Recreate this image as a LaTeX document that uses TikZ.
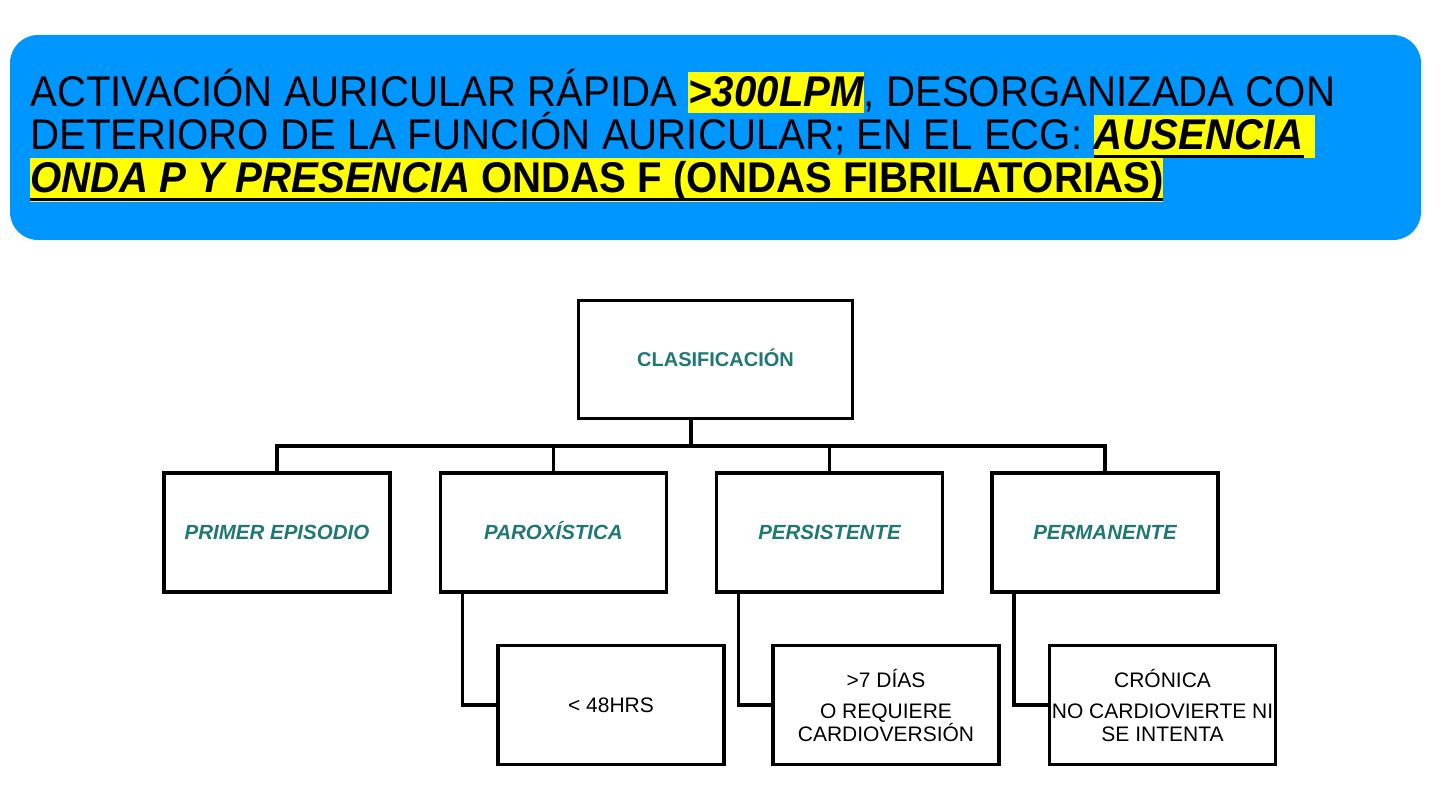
\documentclass[tikz,border=0pt]{standalone}
\usepackage{fontspec}
\setmainfont{Liberation Sans}
\newfontfamily\hdrfont[FakeStretch=0.935]{Liberation Sans}
\definecolor{hdrblue}{RGB}{0,150,255}
\definecolor{tealtxt}{RGB}{31,120,114}
\definecolor{hly}{RGB}{255,255,0}
\newcommand\hlbox[1]{{\setlength{\fboxsep}{0pt}\colorbox{hly}{\rule[-0.15em]{0pt}{0.97em}#1}}}
\newcommand\ulbox[1]{\setbox0\hbox{#1}\rlap{\rule[-0.19em]{\wd0}{0.08em}}\box0}
\begin{document}
\begin{tikzpicture}[x=1pt,y=-1pt,
  box/.style={draw=black,line width=3.8pt,fill=white,minimum width=226pt,minimum height=119pt,inner sep=0pt,align=center},
  l1/.style={box,text=tealtxt,font=\fontsize{20}{24}\selectfont\bfseries,text height=14.5pt,text depth=0pt},
  l2/.style={box,text=tealtxt,font=\fontsize{20.5}{24}\selectfont\bfseries\itshape,text height=14.7pt,text depth=0pt},
  l3/.style={box,text=black,font=\fontsize{21}{23}\selectfont},
  hline/.style={anchor=base west,inner sep=0pt,font=\hdrfont\fontsize{43}{43}\selectfont},
  conn/.style={draw=black,line width=3.4pt}]
\useasboundingbox (0,0) rectangle (1440,810);
\fill[white] (0,0) rectangle (1440,810);
\node[fill=hdrblue,rounded corners=28pt,minimum width=1411pt,minimum height=205pt,inner sep=0pt] (hdr) at (715.5,137.5) {};
\node[hline] (t1) at (30,107) {ACTIVACIÓN AURICULAR RÁPIDA \hlbox{\bfseries\itshape >300LPM}, DESORGANIZADA CON};
\node[hline] (t2) at (30,150) {DETERIORO DE LA FUNCIÓN AURICULAR; EN EL ECG: \hlbox{\bfseries\itshape\ulbox{AUSENCIA}\ }};
\node[hline] (t3) at (30,193) {\hlbox{\bfseries\ulbox{{\itshape ONDA P Y PRESENCIA\/} ONDAS F (ONDAS FIBRILATORIAS)}}};

\node[l1,minimum width=274pt,minimum height=118pt] (clas) at (715.5,359.5) {CLASIFICACIÓN};
\node[l2] (p1) at (277,532.5) {PRIMER EPISODIO};
\node[l2] (p2) at (553.5,532.5) {PAROXÍSTICA};
\node[l2] (p3) at (829.5,532.5) {PERSISTENTE};
\node[l2] (p4) at (1105,532.5) {PERMANENTE};

\node[l3] (c1) at (611,705) {< 48HRS};
\node[l3] (c2) at (886,705) {>7 DÍAS\\[8pt]O REQUIERE\\CARDIOVERSIÓN};
\node[l3] (c3) at (1162.5,705) {CRÓNICA\\[8pt]NO CARDIOVIERTE NI\\SE INTENTA};

\coordinate (bus) at (691,446);
\draw[conn] (bus |- clas.south) -- (bus);
\draw[conn] (p1.north) |- (bus) -| (p4.north);
\draw[conn] (p2.north) -- (p2.north |- bus);
\draw[conn] (p3.north) -- (p3.north |- bus);
\draw[conn] ([xshift=24pt]p2.south west) |- (c1.west);
\draw[conn] ([xshift=24pt]p3.south west) |- (c2.west);
\draw[conn] ([xshift=24pt]p4.south west) |- (c3.west);
\end{tikzpicture}
\end{document}
